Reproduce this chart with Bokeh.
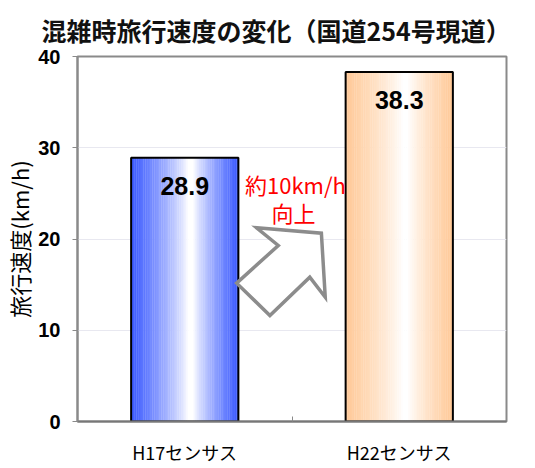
from bokeh.plotting import figure
from bokeh.models import Range1d, FixedTicker
from bokeh.core.properties import value
from bokeh.embed import file_html
from bokeh.resources import INLINE

# --- data -------------------------------------------------------------
categories = ["H17センサス", "H22センサス"]
speeds = [28.9, 38.3]                      # km/h
y_ticks = [0, 10, 20, 30, 40]
title_text = "混雑時旅行速度の変化（国道254号現道）"
y_label = "旅行速度(km/h)"
note_lines = ["約10km/h", "向上"]

# edge colours of the two gradient-filled bars (white towards the middle)
edge_colors = [(56, 88, 255), (255, 200, 150)]

# block arrow shape between the bars (data units)
arrow_x = [0.742, 0.936, 0.835, 1.137, 1.155, 1.083, 0.897]
arrow_y = [15.16, 19.29, 21.23, 20.64, 13.62, 15.81, 11.62]

JP = "Noto Sans CJK JP"

p = figure(width=535, height=468, output_backend="svg", toolbar_location=None,
           x_range=Range1d(0, 2), y_range=Range1d(0, 40),
           min_border_left=75, min_border_right=29,
           min_border_top=56, min_border_bottom=47)
p.background_fill_color = "white"
p.border_fill_color = "white"
p.outline_line_color = "#8a8a8a"
p.outline_line_width = 2

# title
p.title.text = title_text
p.title.align = "left"
p.title.offset = -36
p.title.standoff = 14
p.title.vertical_align = "top"
p.title.text_line_height = 0.6
p.title.text_font = JP
p.title.text_font_style = "bold"
p.title.text_font_size = "25px"
p.title.text_color = "#111111"

# grid
p.xgrid.visible = False
p.ygrid.grid_line_color = "#e8e8f0"
p.ygrid.grid_line_width = 1

# y axis
p.yaxis.ticker = FixedTicker(ticks=y_ticks)
p.yaxis.axis_line_color = "#8a8a8a"
p.yaxis.axis_line_width = 2
p.yaxis.major_tick_line_color = "#8a8a8a"
p.yaxis.major_tick_in = 0
p.yaxis.major_tick_out = 5
p.yaxis.minor_tick_line_color = None
p.yaxis.major_label_text_font = "Liberation Sans"
p.yaxis.major_label_text_font_style = "bold"
p.yaxis.major_label_text_font_size = "20px"
p.yaxis.major_label_text_color = "black"
p.yaxis.major_label_standoff = 12
p.yaxis.axis_label = y_label
p.yaxis.axis_label_text_font = JP
p.yaxis.axis_label_text_font_style = "normal"
p.yaxis.axis_label_text_font_size = "22px"
p.yaxis.axis_label_text_color = "black"
p.yaxis.axis_label_standoff = 0

# x axis: labels at category centres, small ticks on the boundaries
p.xaxis.ticker = FixedTicker(ticks=[i + 0.5 for i in range(len(categories))],
                             minor_ticks=[1.0])
p.xaxis.major_label_overrides = {i + 0.5: c for i, c in enumerate(categories)}
p.xaxis.axis_line_color = "#777777"
p.xaxis.axis_line_width = 2
p.xaxis.major_tick_line_color = None
p.xaxis.minor_tick_line_color = "#8a8a8a"
p.xaxis.minor_tick_in = 5
p.xaxis.minor_tick_out = 0
p.xaxis.major_label_text_font = JP
p.xaxis.major_label_text_font_size = "18px"
p.xaxis.major_label_text_color = "black"
p.xaxis.major_label_standoff = 11


def mix(c, w):
    r = [round(255 + (ci - 255) * w) for ci in c]
    return "#%02x%02x%02x" % tuple(r)


# gradient bars drawn as thin vertical strips
N = 60
BAR_W = 0.5
peak = 0.56
for i, (v, c) in enumerate(zip(speeds, edge_colors)):
    left = i + 0.5 - BAR_W / 2
    xs, cols = [], []
    for k in range(N):
        t = (k + 0.5) / N
        d = (peak - t) / peak if t < peak else (t - peak) / (1 - peak)
        w = max(0.0, (d - 0.05) / 0.95) ** 0.8
        xs.append(left + t * BAR_W)
        cols.append(mix(c, w))
    p.vbar(x=xs, top=[v] * N, bottom=0, width=BAR_W / N * 1.15,
           fill_color=cols, line_color=None)

# bar outlines
p.vbar(x=[i + 0.5 for i in range(len(speeds))], top=speeds, bottom=0,
       width=BAR_W, fill_color=None, line_color="black", line_width=2)

# value labels inside the bars
p.text(x=[i + 0.5 for i in range(len(speeds))], y=speeds,
       text=[f"{v:.1f}" for v in speeds], y_offset=28,
       text_align="center", text_baseline="middle",
       text_font=value("Liberation Sans"), text_font_style="bold",
       text_font_size="25px", text_color="black")

# block arrow
p.patch(arrow_x, arrow_y, fill_color="white", line_color="#8c8c8c",
        line_width=3.5, line_join="miter")

# red note
p.text(x=[1.016, 1.007], y=[26.0, 22.95], text=note_lines,
       text_align="center", text_baseline="middle",
       text_font=value(JP), text_font_size="22px", text_color="#ff0000")

open("out.html", "w").write(file_html(p, INLINE))
